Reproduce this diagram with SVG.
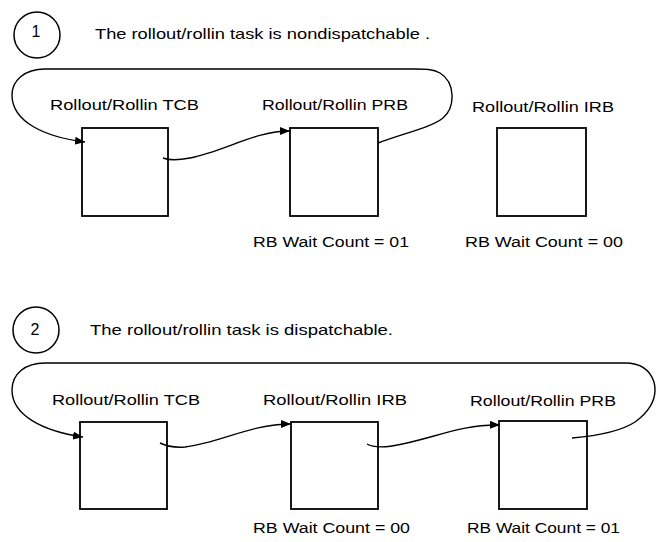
<svg xmlns="http://www.w3.org/2000/svg" width="659" height="542" viewBox="0 0 659 542">
<style>
.bg{fill:#fff}
.box{fill:none;stroke:#000;stroke-width:1.8}
.num{fill:none;stroke:#000;stroke-width:1.5}
.conn{fill:none;stroke:#000;stroke-width:1.4}
text{font-family:"Liberation Sans",Arial,sans-serif;fill:#000}
.t{font-size:14.5px}
.n{font-size:16px}
.l{font-size:15.5px}
</style>
<defs>
<marker id="ah" viewBox="0 0 10 8" refX="10" refY="4" markerWidth="10" markerHeight="8" markerUnits="userSpaceOnUse" orient="auto">
<path d="M0,0 L10,4 L0,8 z" fill="#000"/>
</marker>
</defs>
<rect class="bg" x="0" y="0" width="659" height="542"/>

<!-- Panel 1 -->
<g id="step1">
<circle class="num" cx="37" cy="35" r="23"/>
<text class="n" x="36" y="37" text-anchor="middle">1</text>
<text class="t" x="95" y="39" textLength="335" lengthAdjust="spacingAndGlyphs">The rollout/rollin task is nondispatchable .</text>
</g>
<g id="p1-tcb">
<text class="l" x="50" y="110" textLength="149" lengthAdjust="spacingAndGlyphs">Rollout/Rollin TCB</text>
<rect class="box" x="82" y="128" width="86" height="88"/>
</g>
<g id="p1-prb">
<text class="l" x="262" y="110" textLength="146" lengthAdjust="spacingAndGlyphs">Rollout/Rollin PRB</text>
<rect class="box" x="290" y="128" width="88" height="88"/>
<text class="l" x="253" y="247" textLength="156" lengthAdjust="spacingAndGlyphs">RB Wait Count = 01</text>
</g>
<g id="p1-irb">
<text class="l" x="472" y="112" textLength="142" lengthAdjust="spacingAndGlyphs">Rollout/Rollin IRB</text>
<rect class="box" x="497" y="128" width="89" height="88"/>
<text class="l" x="465" y="247" textLength="158" lengthAdjust="spacingAndGlyphs">RB Wait Count = 00</text>
</g>

<!-- Panel 2 -->
<g id="step2">
<circle class="num" cx="36" cy="330" r="23"/>
<text class="n" x="35" y="335" text-anchor="middle">2</text>
<text class="t" x="90" y="335" textLength="303" lengthAdjust="spacingAndGlyphs">The rollout/rollin task is dispatchable.</text>
</g>
<g id="p2-tcb">
<text class="l" x="52" y="405" textLength="148" lengthAdjust="spacingAndGlyphs">Rollout/Rollin TCB</text>
<rect class="box" x="80" y="422" width="87" height="87"/>
</g>
<g id="p2-irb">
<text class="l" x="263" y="405" textLength="144" lengthAdjust="spacingAndGlyphs">Rollout/Rollin IRB</text>
<rect class="box" x="291" y="422" width="87" height="87"/>
<text class="l" x="253" y="533" textLength="157" lengthAdjust="spacingAndGlyphs">RB Wait Count = 00</text>
</g>
<g id="p2-prb">
<text class="l" x="470" y="406" textLength="146" lengthAdjust="spacingAndGlyphs">Rollout/Rollin PRB</text>
<rect class="box" x="499" y="421" width="88" height="88"/>
<text class="l" x="467" y="533" textLength="153" lengthAdjust="spacingAndGlyphs">RB Wait Count = 01</text>
</g>

<g id="connectors">
<path class="conn" marker-end="url(#ah)" d="M163,158 C168,160 175,161 190,158 C225,151 255,131 290,131"/>
<path class="conn" marker-end="url(#ah)" d="M378,143 C405,133 432,127 443,118 C456,107 455,82 440,73 C433,69 425,69 415,69 L45,69 C24,69 12,81 12,95 C12,122 45,137 85,142"/>
<path class="conn" marker-end="url(#ah)" d="M160,443 C166,446 172,448 185,447 C220,443 250,424 291,424"/>
<path class="conn" marker-end="url(#ah)" d="M367,444 C372,447 378,448 392,446 C430,440 460,424 500,425"/>
<path class="conn" marker-end="url(#ah)" d="M572,438 C595,436 620,432 635,422 C650,411 658,398 654,382 C650,370 640,363 625,363 L45,363 C25,363 12,374 12,390 C12,415 42,431 83,437"/>
</g>
</svg>
